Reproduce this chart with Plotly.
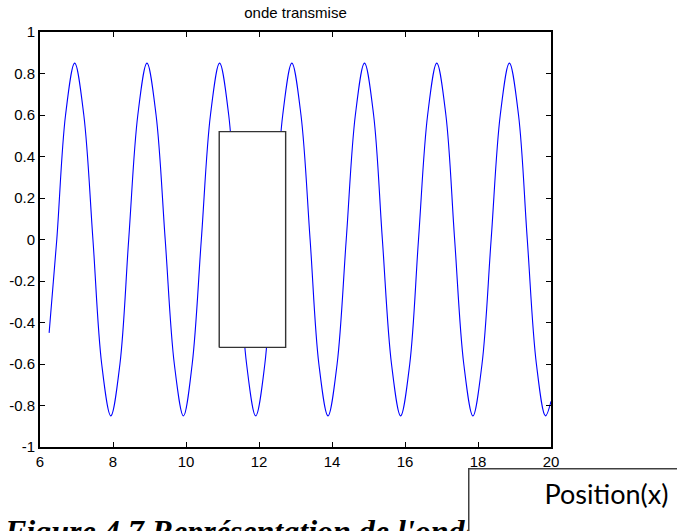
import plotly.graph_objects as go

# ---- data ----
wave_x = [6.25, 6.46, 6.70, 6.95, 7.20, 7.45, 7.69, 7.94, 8.19, 8.43, 8.68, 8.93,
          9.18, 9.43, 9.68, 9.93, 10.17, 10.42, 10.67, 10.92, 11.17, 11.41, 11.66,
          11.91, 12.16, 12.40, 12.65, 12.90, 13.15, 13.40, 13.64, 13.89, 14.14,
          14.39, 14.64, 14.89, 15.14, 15.38, 15.63, 15.88, 16.13, 16.37, 16.62,
          16.87, 17.12, 17.36, 17.61, 17.86, 18.11, 18.36, 18.61, 18.86, 19.11,
          19.35, 19.60, 19.85, 20.00]
wave_y = [-0.45, 0.00, 0.60, 0.85, 0.60, 0.00, -0.60, -0.85, -0.60, 0.00, 0.60, 0.85,
          0.60, 0.00, -0.60, -0.85, -0.60, 0.00, 0.60, 0.85, 0.60, 0.00, -0.60,
          -0.85, -0.60, 0.00, 0.60, 0.85, 0.60, 0.00, -0.60, -0.85, -0.60,
          0.00, 0.60, 0.85, 0.60, 0.00, -0.60, -0.85, -0.60, 0.00, 0.60,
          0.85, 0.60, 0.00, -0.60, -0.85, -0.60, 0.00, 0.60, 0.85, 0.60,
          0.00, -0.60, -0.85, -0.78]

rect_x = [10.91, 12.73]
rect_y = [-0.52, 0.52]

x_ticks = [6, 8, 10, 12, 14, 16, 18, 20]
y_ticks = [-1, -0.8, -0.6, -0.4, -0.2, 0, 0.2, 0.4, 0.6, 0.8, 1]
y_ticktext = ["-1", "-0.8", "-0.6", "-0.4", "-0.2", "0", "0.2", "0.4", "0.6", "0.8", "1"]

title_text = "onde transmise"
caption_text = "Figure 4.7 Représentation de l'onde transmise"
box_text = "Position(x)"

# ---- figure ----
fig = go.Figure()
fig.add_trace(go.Scatter(
    x=wave_x, y=wave_y, mode="lines",
    line=dict(color="#0000FF", width=1.1, shape="spline", smoothing=1.0),
    hoverinfo="skip", showlegend=False))

poly_x = [rect_x[0], rect_x[1], rect_x[1], rect_x[0], rect_x[0]]
poly_y = [rect_y[0], rect_y[0], rect_y[1], rect_y[1], rect_y[0]]
fig.add_trace(go.Scatter(
    x=poly_x, y=poly_y, mode="lines", fill="toself", fillcolor="white",
    line=dict(color="#333333", width=1.4), hoverinfo="skip", showlegend=False))

W, H = 677, 531
L, R, T, B = 40, 551, 32, 447
pw, ph = R - L, B - T

def px_x(p):
    return (p - L) / pw

def px_y(p):
    return (B - p) / ph

axis_font = dict(family="Liberation Sans, Arial, sans-serif", size=15, color="#000000")

fig.update_layout(
    width=W, height=H,
    margin=dict(l=L, r=W - R, t=T, b=H - B, pad=0, autoexpand=False),
    paper_bgcolor="white", plot_bgcolor="white",
    showlegend=False,
    title=dict(text=title_text, x=0.5, xref="paper", xanchor="center",
               y=1 - 13 / H, yref="container", yanchor="middle",
               font=dict(family="Liberation Sans, Arial, sans-serif", size=15, color="#000000")),
    xaxis=dict(range=[6, 20], tickvals=x_ticks, ticks="inside", ticklen=5,
               tickcolor="#000000", tickwidth=1, showline=True, linecolor="#000000",
               linewidth=1.8, mirror="ticks", showgrid=False, zeroline=False,
               tickfont=axis_font, automargin=False),
    yaxis=dict(range=[-1, 1], tickvals=y_ticks, ticktext=y_ticktext, ticks="inside",
               ticklen=5, tickcolor="#000000", tickwidth=1, showline=True,
               linecolor="#000000", linewidth=1.8, mirror="ticks", showgrid=False,
               zeroline=False, tickfont=axis_font, automargin=False),
)

fig.add_annotation(
    text="<b><i>" + caption_text + "</i></b>",
    xref="paper", yref="paper", x=px_x(2), y=px_y(511),
    xanchor="left", yanchor="top", showarrow=False, align="left",
    font=dict(family="Liberation Serif, Times New Roman, serif", size=32, color="#000000"))

fig.add_annotation(
    text=box_text,
    xref="paper", yref="paper", x=px_x(468), y=px_y(467.7),
    xanchor="left", yanchor="top", showarrow=False,
    width=260, height=100, align="center", valign="top", borderpad=7,
    bgcolor="white", bordercolor="#404040", borderwidth=1.5,
    font=dict(family="Lato, Open Sans, sans-serif", size=27, color="#000000"))

fig.write_html("out.html")
